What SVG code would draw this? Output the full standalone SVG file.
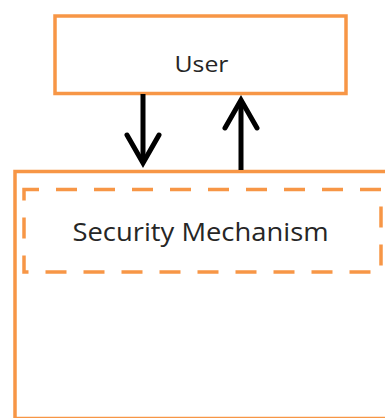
<svg xmlns="http://www.w3.org/2000/svg" width="385" height="418" viewBox="0 0 385 418">
  <style>
    .box { fill: #ffffff; stroke: #F79646; stroke-width: 3.5; }
    .dash { fill: none; stroke: #F79646; stroke-width: 3.5; stroke-dasharray: 21 17; stroke-dashoffset: 6; }
    .label { font-family: "Open Sans", "Liberation Sans", sans-serif; fill: #262626; text-anchor: middle; }
    .flow { stroke: #000000; stroke-width: 5; fill: none; marker-end: url(#head); }
  </style>
  <defs>
    <marker id="head" markerUnits="userSpaceOnUse" markerWidth="50" markerHeight="50"
            viewBox="-40 -25 50 50" refX="0" refY="0" orient="auto" overflow="visible">
      <path d="M-28,-16 L0,0 L-28,16" fill="none" stroke="#000000" stroke-width="5"
            stroke-linecap="round" stroke-linejoin="miter"/>
    </marker>
  </defs>

  <rect width="385" height="418" fill="#ffffff"/>

  <!-- outer container -->
  <g id="system">
    <rect class="box" x="15" y="171.5" width="380" height="247"/>
  </g>

  <!-- dashed inner component -->
  <g id="security-mechanism">
    <rect class="dash" x="24" y="189.5" width="357" height="82.5"/>
    <text class="label" x="200.5" y="240.5" font-size="25" textLength="256" lengthAdjust="spacingAndGlyphs">Security Mechanism</text>
  </g>

  <!-- user node -->
  <g id="user">
    <rect class="box" x="55" y="16" width="291" height="77.5"/>
    <text class="label" x="201.5" y="71.5" font-size="21" textLength="54" lengthAdjust="spacingAndGlyphs">User</text>
  </g>

  <!-- request / response flows -->
  <g id="connectors">
    <line class="flow" x1="143" y1="94" x2="143" y2="163"/>
    <line class="flow" x1="241" y1="170" x2="241" y2="100"/>
  </g>
</svg>
